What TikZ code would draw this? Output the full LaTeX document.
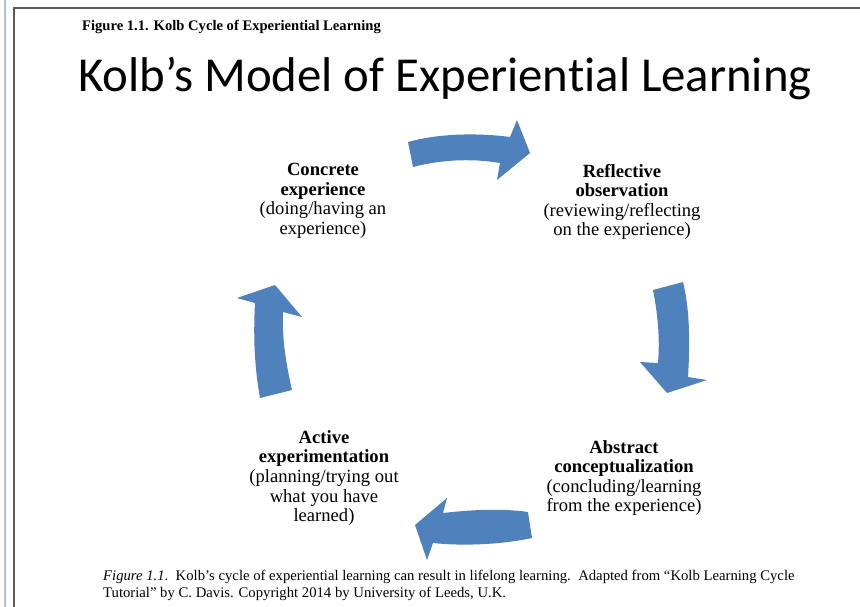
\documentclass[tikz,border=0pt]{standalone}
\usepackage{fontspec}
\setmainfont{Liberation Serif}
\newfontfamily\titlefont[Ligatures=CommonOff]{Carlito}
\definecolor{arrowblue}{HTML}{4F81BD}
\definecolor{frameblue}{HTML}{A9C1E6}
\definecolor{framegray}{HTML}{5A5A5A}
\begin{document}
\begin{tikzpicture}[x=1pt,y=-1pt,
  lbl/.style={align=center,inner sep=0pt,font=\fontsize{18.6}{19.6}\selectfont},
  cyc/.style={fill=arrowblue,draw=none},
  frm/.style={line width=2pt}]
\useasboundingbox (0,0) rectangle (860,607);
\fill[white] (0,0) rectangle (860,607);
% frame
\draw[frm,frameblue] (5,0) -- (5,607);
\draw[frm,framegray] (14,607) -- (14,8) -- (860,8);
% headings
\node[anchor=west,inner sep=0pt,font=\bfseries\fontsize{14.6}{16}\selectfont] (fig) at (82,27) {Figure 1.1. Kolb Cycle of Experiential Learning};
\node[inner sep=0pt,font=\titlefont\fontsize{48.8}{52}\selectfont] (title) at (445,78) {Kolb’s Model of Experiential Learning};
% labels
\node[lbl] (ce) at (323,201) {\textbf{Concrete}\\\textbf{experience}\\(doing/having an\\experience)};
\node[lbl] (ro) at (622,202) {\textbf{Reflective}\\\textbf{observation}\\(reviewing/reflecting\\on the experience)};
\node[lbl] (ac) at (624,478) {\textbf{Abstract}\\\textbf{conceptualization}\\(concluding/learning\\from the experience)};
\node[lbl] (ae) at (324,478) {\textbf{Active}\\\textbf{experimentation}\\(planning/trying out\\what you have\\learned)};
% cycle arrows
\fill[cyc] (408,142) .. controls (440,133) and (480,133) .. (510,137) -- (517,120) -- (530,153) -- (497,180) -- (500,163) .. controls (470,158) and (440,160) .. (413,167) -- cycle;
\fill[cyc] (653,290) -- (683,282) .. controls (690,310) and (690,345) .. (688,377) -- (707,380) -- (667,393) -- (640,362) -- (658,363) .. controls (660,340) and (658,315) .. (653,290) -- cycle;
\fill[cyc] (528,512) -- (532,538) .. controls (500,545) and (460,546) .. (433,543) -- (427,560) -- (415,525) -- (447,498) -- (443,513) .. controls (470,510) and (500,508) .. (528,512) -- cycle;
\fill[cyc] (260,398) -- (292,390) .. controls (285,360) and (282,335) .. (283,312) -- (302,317) -- (275,285) -- (237,298) -- (255,303) .. controls (253,340) and (255,370) .. (260,398) -- cycle;
% caption
\node[anchor=west,inner sep=0pt,font=\fontsize{14.7}{16}\selectfont] (cap1) at (103,577) {\textit{Figure 1.1}.\ \ Kolb’s cycle of experiential learning can result in lifelong learning.\ \ Adapted from “Kolb Learning Cycle};
\node[anchor=west,inner sep=0pt,font=\fontsize{14.7}{16}\selectfont] (cap2) at (103,594) {Tutorial” by C. Davis. Copyright 2014 by University of Leeds, U.K.};
\end{tikzpicture}
\end{document}
